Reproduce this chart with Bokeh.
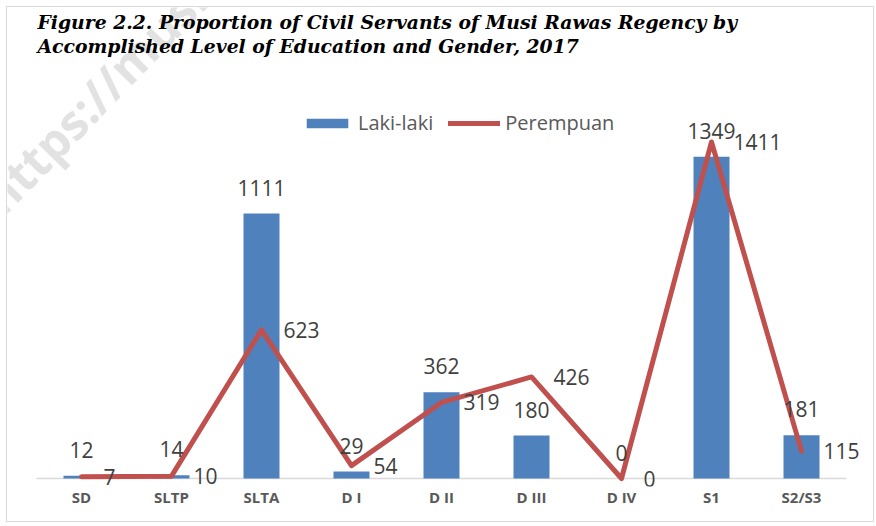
from bokeh.plotting import figure
from bokeh.models import Range1d, Label, Legend, LegendItem, FactorRange
from bokeh.core.properties import value
from bokeh.embed import file_html
from bokeh.resources import INLINE

categories = ["SD", "SLTP", "SLTA", "D I", "D II", "D III", "D IV", "S1", "S2/S3"]
laki_laki = [12, 14, 1111, 29, 362, 180, 0, 1349, 181]
perempuan = [7, 10, 623, 54, 319, 426, 0, 1411, 115]
title_lines = [
    "Figure 2.2. Proportion of Civil Servants of Musi Rawas Regency by",
    "Accomplished Level of Education and Gender, 2017",
]

BLUE = "#4F81BD"
RED = "#C0504D"
GRAY = "#595959"
LABEL = "#404040"

p = figure(
    x_range=FactorRange(*categories, range_padding=0.322, range_padding_units="absolute"),
    y_range=Range1d(-33.5, 1975),
    width=868, height=516,
    output_backend="svg", toolbar_location=None,
    y_axis_location=None,
    min_border_left=0, min_border_right=0,
    min_border_top=0, min_border_bottom=37,
)
p.styles = {"border": "1px solid #d9d9d9", "margin-left": "6px", "margin-top": "6px"}
p.outline_line_color = None
p.xgrid.visible = False
p.ygrid.visible = False

# faint watermark (drawn first, behind everything)
p.add_layout(Label(x=6, y=259, x_units="screen", y_units="screen",
                   text="https://musirawaskab.bps.go.id", angle=0.80,
                   text_font="Open Sans", text_font_size="48px",
                   text_color="#e2e2e2", text_font_style="bold"), "center")

# category baseline at zero
p.segment(x0=[(categories[0], -0.5)], y0=[0], x1=[(categories[-1], 0.5)], y1=[0],
          line_color="#d9d9d9", line_width=1.5)

bars = p.vbar(x=categories, top=laki_laki, width=0.4, fill_color=BLUE, line_color=None)
line = p.line(x=categories, y=perempuan, line_width=5, line_color=RED,
              line_join="round", line_cap="round")

p.text(x=categories, y=laki_laki, text=[str(v) for v in laki_laki],
       text_align="center", text_baseline="alphabetic", y_offset=-26,
       text_font=value("Open Sans"), text_font_size="21px", text_color=LABEL)
p.text(x=categories, y=perempuan, text=[str(v) for v in perempuan],
       text_align="left", text_baseline="middle", x_offset=22,
       text_font=value("Open Sans"), text_font_size="21px", text_color=LABEL)

ax = p.xaxis[0]
ax.axis_line_color = None
ax.major_tick_line_color = None
ax.minor_tick_line_color = None
ax.major_tick_out = 0
ax.major_tick_in = 0
ax.major_label_standoff = 0
ax.major_label_text_font = "Open Sans"
ax.major_label_text_font_style = "bold"
ax.major_label_text_font_size = "15px"
ax.major_label_text_color = GRAY

legend = Legend(
    items=[LegendItem(label="Laki-laki", renderers=[bars]),
           LegendItem(label="Perempuan", renderers=[line])],
    orientation="horizontal", location=(294, 350),
    glyph_width=52, glyph_height=12, label_standoff=5, spacing=15,
    padding=0, margin=0, border_line_color=None, background_fill_alpha=0,
    label_text_font="Open Sans", label_text_font_size="20px", label_text_color=GRAY,
)
p.add_layout(legend)

for i, t in enumerate(title_lines):
    p.add_layout(Label(x=30, y=465 - 24 * i, x_units="screen", y_units="screen",
                       text=t, text_font="DejaVu Serif", text_font_style="bold italic",
                       text_font_size="18.8px", text_color="black",
                       text_baseline="alphabetic"))

open("out.html", "w").write(file_html(p, INLINE))
